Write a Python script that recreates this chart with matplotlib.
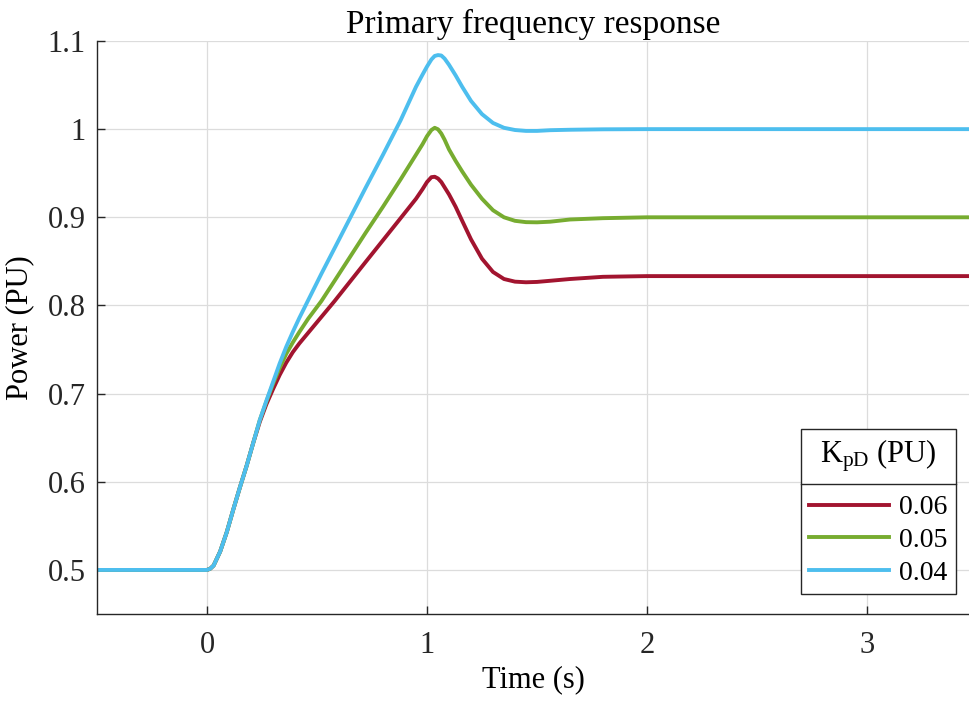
import matplotlib
matplotlib.use("Agg")
import matplotlib.pyplot as plt
from matplotlib.lines import Line2D

### fonte parecida com Times
plt.rcParams["font.family"] = "Liberation Serif"
plt.rcParams["mathtext.fontset"] = "custom"
plt.rcParams["mathtext.rm"] = "Liberation Serif"
plt.rcParams["mathtext.it"] = "Liberation Serif:italic"

#################################
# dados
t = [-0.5, 0.0, 0.015, 0.03, 0.06, 0.09, 0.12, 0.15, 0.18, 0.21, 0.24, 0.27, 0.30,
     0.33, 0.36, 0.39, 0.42, 0.46, 0.52, 0.58, 0.65, 0.72, 0.80, 0.88, 0.95,
     0.98, 1.00, 1.02, 1.035, 1.05, 1.065, 1.08, 1.10, 1.13, 1.16, 1.20, 1.25,
     1.30, 1.35, 1.40, 1.45, 1.50, 1.56, 1.65, 1.80, 2.0, 2.5, 3.5]

p_006 = [0.5, 0.5, 0.5015, 0.505, 0.521, 0.543, 0.569, 0.594, 0.618, 0.644, 0.668, 0.688, 0.705,
         0.721, 0.735, 0.747, 0.757, 0.769, 0.787, 0.805, 0.827, 0.849, 0.874, 0.899, 0.921,
         0.932, 0.940, 0.9455, 0.946, 0.944, 0.940, 0.934, 0.926, 0.912, 0.896, 0.875, 0.853,
         0.838, 0.830, 0.827, 0.8263, 0.8267, 0.828, 0.830, 0.8325, 0.8333, 0.8333, 0.8333]

p_005 = [0.5, 0.5, 0.5015, 0.505, 0.521, 0.543, 0.569, 0.594, 0.618, 0.644, 0.670, 0.691, 0.711,
         0.729, 0.745, 0.758, 0.770, 0.785, 0.805, 0.828, 0.855, 0.882, 0.912, 0.943, 0.971,
         0.983, 0.992, 0.999, 1.0015, 0.9998, 0.995, 0.988, 0.977, 0.964, 0.952, 0.937, 0.921,
         0.908, 0.900, 0.896, 0.8945, 0.8943, 0.895, 0.8975, 0.899, 0.9, 0.9, 0.9]

p_004 = [0.5, 0.5, 0.5015, 0.505, 0.521, 0.543, 0.569, 0.594, 0.618, 0.644, 0.670, 0.692, 0.713,
         0.734, 0.753, 0.770, 0.786, 0.806, 0.836, 0.865, 0.899, 0.933, 0.971, 1.010, 1.048,
         1.062, 1.071, 1.079, 1.083, 1.084, 1.0835, 1.080, 1.073, 1.061, 1.048, 1.032, 1.017,
         1.007, 1.0015, 0.999, 0.998, 0.998, 0.9988, 0.9993, 0.9998, 1.0, 1.0, 1.0]

series = [p_006, p_005, p_004]
labels = ["0.06", "0.05", "0.04"]
cores = ["#A2142F", "#77AC30", "#4DBEEE"]

yticks = [0.5, 0.6, 0.7, 0.8, 0.9, 1.0, 1.1]
yticklabels = ["0.5", "0.6", "0.7", "0.8", "0.9", "1", "1.1"]
xticks = [0, 1, 2, 3]

#################################
fig = plt.figure(figsize=(9.69, 7.04), dpi=100)
ax = fig.add_axes([0.1001, 0.1278, 0.8999, 0.814])

for y, lab, c in zip(series, labels, cores):
    ax.plot(t, y, color=c, lw=2.8, label=lab, solid_joinstyle="round")

ax.set_xlim(-0.5, 3.4636)
ax.set_ylim(0.45, 1.1)
ax.set_xticks(xticks)
ax.set_xticklabels([str(v) for v in xticks])
ax.set_yticks(yticks)
ax.set_yticklabels(yticklabels)
ax.tick_params(direction="in", length=6, width=1, labelsize=22, colors="#262626")
ax.tick_params(axis="x", pad=12)
ax.tick_params(axis="y", pad=8)
ax.grid(True, color="#dcdcdc", lw=0.9)
ax.set_axisbelow(True)

# so eixo esquerdo e de baixo
ax.spines["top"].set_visible(False)
ax.spines["right"].set_visible(False)
for sp in ["left", "bottom"]:
    ax.spines[sp].set_color("#262626")
    ax.spines[sp].set_linewidth(1.0)

ax.set_xlabel("Time (s)", fontsize=22, labelpad=4)
ax.set_ylabel("Power (PU)", fontsize=22, labelpad=10)
ax.set_title("Primary frequency response", fontsize=24, pad=6)

leg = ax.legend(title=r"K$_{\mathregular{pD}}$ (PU)", loc="lower right",
                bbox_to_anchor=(0.985, 0.035), borderaxespad=0,
                fontsize=20, title_fontsize=22, fancybox=False,
                edgecolor="#262626", framealpha=1, handlelength=2.9,
                handletextpad=0.35, labelspacing=0.26, borderpad=0.3)
leg.get_frame().set_linewidth(1.0)
# mais espaco entre titulo e entradas (como no matlab)
leg._legend_box.sep = 15

### linha separando o titulo da legenda
fig.canvas.draw()
r = fig.canvas.get_renderer()
bl = leg.get_window_extent(r)
bt = leg.get_title().get_window_extent(r)
b1 = leg.get_texts()[0].get_window_extent(r)
y_sep = (bt.y0 + b1.y1) / 2 + 1
inv = fig.transFigure.inverted()
(x0, y0) = inv.transform((bl.x0, y_sep))
(x1, _) = inv.transform((bl.x1, y_sep))
fig.add_artist(Line2D([x0, x1], [y0, y0], color="#262626", lw=1.0, transform=fig.transFigure))

plt.savefig("out.png", dpi=100)
plt.close("all")
